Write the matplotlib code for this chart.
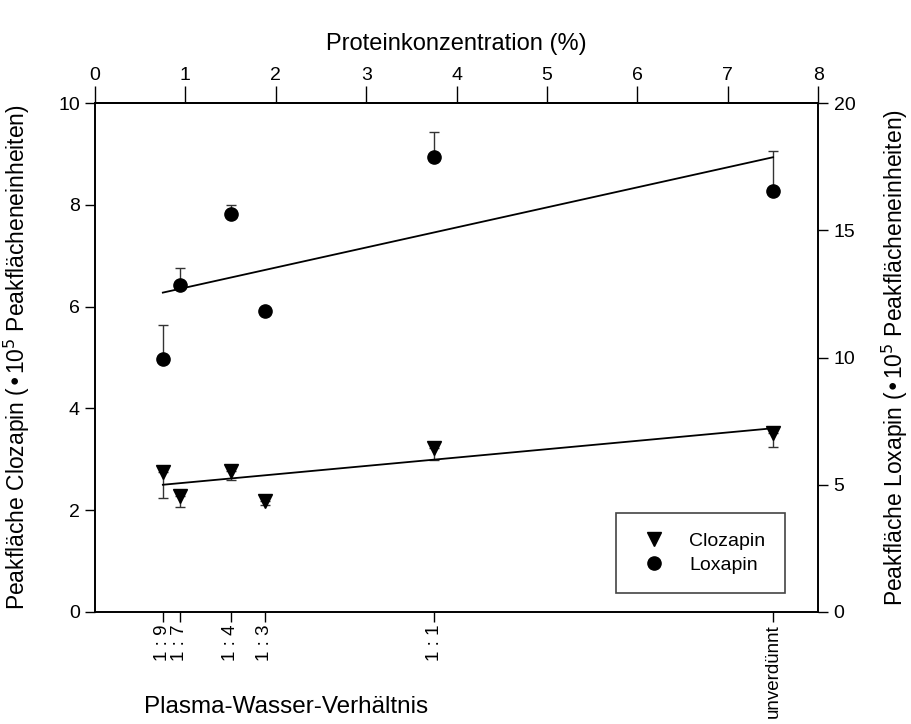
import matplotlib.pyplot as plt
import numpy as np

plt.rcParams['font.family'] = ['Liberation Sans', 'DejaVu Sans']

# Plasma-Wasser-Verhältnis und zugehörige Proteinkonzentration (%)
ratio_labels = ['1 : 9', '1 : 7', '1 : 4', '1 : 3', '1 : 1', 'unverdünnt']
protein = [0.75, 0.9375, 1.5, 1.875, 3.75, 7.5]

# Peakflächen (x 10^5), Clozapin linke Achse, Loxapin rechte Achse
clozapin = [2.76, 2.27, 2.77, 2.18, 3.23, 3.52]
clozapin_err = [0.52, 0.20, 0.17, 0.08, 0.24, 0.27]
loxapin = [9.93, 12.84, 15.63, 11.83, 17.87, 16.54]
loxapin_err = [1.35, 0.68, 0.37, 0.0, 0.99, 1.58]

# Regressionsgeraden (Endpunkte)
fit_x = [0.75, 7.5]
clozapin_fit = [2.50, 3.61]
loxapin_fit = [12.55, 17.87]


def main():
    fig = plt.figure(figsize=(9.12, 7.24), dpi=100)
    ax = fig.add_axes([0.1042, 0.1547, 0.793, 0.703])
    ax2 = ax.twinx()

    zeros = np.zeros(len(protein))
    ax.errorbar(protein, clozapin, yerr=[clozapin_err, zeros], fmt='none',
                ecolor='#333333', elinewidth=1, capsize=3.6, capthick=1, zorder=2)
    ax.plot(protein, clozapin, 'v', color='black', markersize=9.5, zorder=3,
            label='Clozapin')
    ax.plot(fit_x, clozapin_fit, color='black', linewidth=1.3, zorder=2)

    ax2.errorbar(protein, loxapin, yerr=[zeros, loxapin_err], fmt='none',
                 ecolor='#333333', elinewidth=1, capsize=3.6, capthick=1, zorder=2)
    ax2.plot(protein, loxapin, 'o', color='black', markersize=9.5, zorder=3,
             label='Loxapin')
    ax2.plot(fit_x, loxapin_fit, color='black', linewidth=1.3, zorder=2)

    ax.set_xlim(0, 8)
    ax.set_ylim(0, 10)
    ax2.set_ylim(0, 20)
    ax.set_yticks(np.arange(0, 11, 2))
    ax2.set_yticks(np.arange(0, 21, 5))

    # untere Achse: Verdünnungsstufen
    ax.set_xticks(protein)
    ax.set_xticklabels(ratio_labels, rotation=90, fontsize=13.5, va='top')
    ax.tick_params(axis='x', direction='out', length=7, width=1, pad=2)
    ax.tick_params(axis='y', direction='out', length=7, width=1, labelsize=14, pad=4)
    ax2.tick_params(axis='y', direction='out', length=7, width=1, labelsize=14, pad=4)

    # obere Achse: Proteinkonzentration
    top = ax.secondary_xaxis('top')
    top.set_xticks(np.arange(0, 9, 1))
    top.tick_params(direction='out', length=12, width=1, labelsize=14, pad=2)
    top.set_xlabel('Proteinkonzentration (%)', fontsize=17, labelpad=12)

    for a in (ax, ax2):
        for s in a.spines.values():
            s.set_linewidth(1.2)
    top.spines['top'].set_linewidth(1.2)

    ax.set_ylabel('Peakfläche Clozapin (•10$^5$ Peakflächeneinheiten)', fontsize=16.5)
    ax.yaxis.set_label_coords(-0.087, 0.5)
    ax2.set_ylabel('Peakfläche Loxapin (•10$^5$ Peakflächeneinheiten)', fontsize=16.5)
    ax2.yaxis.set_label_coords(1.085, 0.5)

    fig.text(286 / 912, 1 - 707 / 724, 'Plasma-Wasser-Verhältnis', fontsize=17.5,
             ha='center', va='center')

    h1, l1 = ax.get_legend_handles_labels()
    h2, l2 = ax2.get_legend_handles_labels()
    leg = ax2.legend(h1 + h2, l1 + l2, loc='lower right',
                     bbox_to_anchor=(0.954, 0.037), fontsize=14, frameon=True,
                     fancybox=False, edgecolor='#444444', framealpha=1,
                     borderpad=1.0, handletextpad=0.8, labelspacing=0.3,
                     borderaxespad=0)
    leg.get_frame().set_linewidth(1.2)

    plt.savefig('out.png', dpi=100)


if __name__ == "__main__": main()
